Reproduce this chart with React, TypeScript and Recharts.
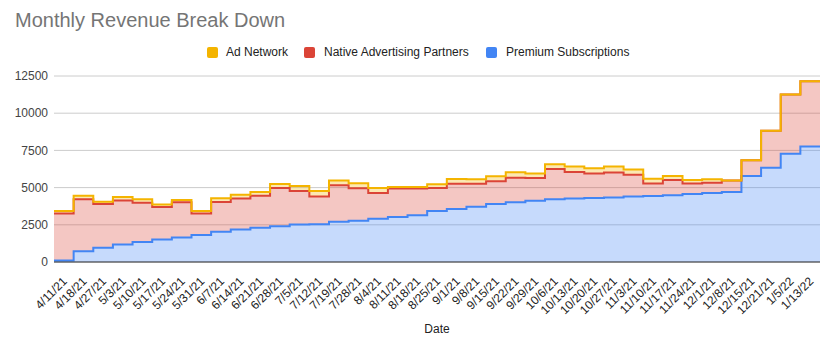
import React from "react";
import {
    AreaChart,
    Area,
    XAxis,
    YAxis,
    CartesianGrid,
    ReferenceLine,
} from "recharts";

const DATES = [
    "4/11/21", "4/18/21", "4/27/21", "5/3/21", "5/10/21", "5/17/21", "5/24/21",
    "5/31/21", "6/7/21", "6/14/21", "6/21/21", "6/28/21", "7/5/21", "7/12/21",
    "7/19/21", "7/28/21", "8/4/21", "8/11/21", "8/18/21", "8/25/21", "9/1/21",
    "9/8/21", "9/15/21", "9/22/21", "9/29/21", "10/6/21", "10/13/21", "10/20/21",
    "10/27/21", "11/3/21", "11/10/21", "11/17/21", "11/24/21", "12/1/21",
    "12/8/21", "12/15/21", "12/21/21", "1/5/22", "1/13/22",
];

const PREMIUM = [
    100, 720, 950, 1170, 1350, 1510, 1650, 1820, 2030, 2190, 2300, 2410, 2520,
    2540, 2700, 2770, 2900, 3030, 3150, 3420, 3560, 3710, 3890, 4010, 4120,
    4210, 4260, 4300, 4340, 4400, 4430, 4480, 4570, 4640, 4700, 5780, 6340,
    7270, 7760,
];

const NATIVE = [
    3160, 3490, 2940, 2970, 2630, 2180, 2360, 1440, 2000, 2070, 2150, 2560,
    2250, 1870, 2450, 2180, 1740, 1910, 1790, 1550, 1700, 1550, 1530, 1650,
    1520, 2040, 1790, 1640, 1670, 1470, 840, 1030, 700, 690, 770, 1060, 2480,
    3980, 4390,
];

const AD_NETWORK = [
    160, 240, 160, 220, 230, 180, 160, 160, 260, 260, 250, 270, 340, 360, 320,
    340, 330, 100, 100, 250, 320, 300, 340, 370, 300, 320, 360, 360, 400, 350,
    330, 270, 240, 230, 0, 0, 0, 0, 0,
];

const Y_TICKS = [0, 2500, 5000, 7500, 10000, 12500];

const SERIES = [
    { key: "premium", name: "Premium Subscriptions", color: "#4285f4" },
    { key: "native", name: "Native Advertising Partners", color: "#db4437" },
    { key: "ad", name: "Ad Network", color: "#f4b400" },
];

const FONT = "'Liberation Sans', Arial, sans-serif";

// each week is a full-width step, so the last value is repeated to close it
const rows = DATES.map((_, i) => ({
    x: i,
    premium: PREMIUM[i],
    native: NATIVE[i],
    ad: AD_NETWORK[i],
}));
const last = DATES.length - 1;
const data = [
    ...rows,
    { x: DATES.length, premium: PREMIUM[last], native: NATIVE[last], ad: AD_NETWORK[last] },
];

function DateTick({ x, y, payload }: any) {
    const label = DATES[Math.floor(payload.value)];
    const tx = x + 4;
    const ty = y + 20;
    return (
        <text
            x={tx}
            y={ty}
            transform={`rotate(-45 ${tx} ${ty})`}
            textAnchor="end"
            fontSize={12}
            fill="#222"
            fontFamily={FONT}
        >
            {label}
        </text>
    );
}

const LEGEND = [
    { name: "Ad Network", color: "#f4b400", box: 207, text: 226 },
    { name: "Native Advertising Partners", color: "#db4437", box: 304, text: 324 },
    { name: "Premium Subscriptions", color: "#4285f4", box: 486, text: 506 },
];

export default function App() {
    return (
        <div
            style={{
                position: "absolute",
                left: 0,
                top: 0,
                width: 835,
                height: 351,
                background: "#fff",
                fontFamily: FONT,
            }}
        >
            <div
                style={{
                    position: "absolute",
                    left: 15,
                    top: 9,
                    fontSize: 20,
                    color: "#757575",
                    whiteSpace: "nowrap",
                }}
            >
                Monthly Revenue Break Down
            </div>
            {LEGEND.map((l) => (
                <React.Fragment key={l.name}>
                    <div
                        style={{
                            position: "absolute",
                            left: l.box,
                            top: 47,
                            width: 11,
                            height: 11,
                            borderRadius: 2,
                            background: l.color,
                        }}
                    />
                    <div
                        style={{
                            position: "absolute",
                            left: l.text,
                            top: 45,
                            fontSize: 12,
                            color: "#222",
                            whiteSpace: "nowrap",
                        }}
                    >
                        {l.name}
                    </div>
                </React.Fragment>
            ))}
            <div
                style={{
                    position: "absolute",
                    left: 387,
                    width: 100,
                    textAlign: "center",
                    top: 322,
                    fontSize: 12,
                    color: "#222",
                }}
            >
                Date
            </div>
            <div style={{ position: "absolute", left: 0, top: 0 }}>
                <AreaChart
                    width={835}
                    height={351}
                    data={data}
                    margin={{ top: 76, right: 15, bottom: 0, left: 0 }}
                >
                    <CartesianGrid
                        horizontal
                        vertical={false}
                        stroke="#cccccc"
                        strokeWidth={1}
                    />
                    <XAxis
                        dataKey="x"
                        type="number"
                        domain={[0, DATES.length]}
                        ticks={DATES.map((_, i) => i + 0.5)}
                        interval={0}
                        tick={<DateTick />}
                        tickLine={false}
                        axisLine={false}
                        tickSize={0}
                        tickMargin={0}
                        height={89}
                        allowDataOverflow
                    />
                    <YAxis
                        type="number"
                        domain={[0, 12500]}
                        ticks={Y_TICKS}
                        interval={0}
                        tickLine={false}
                        axisLine={false}
                        tickSize={0}
                        tickMargin={6}
                        width={54}
                        tick={{ fontSize: 12, fill: "#444", fontFamily: FONT }}
                    />
                    {SERIES.map((s) => (
                        <Area
                            key={`fill-${s.key}`}
                            dataKey={s.key}
                            name={s.name}
                            stackId="fill"
                            type="stepAfter"
                            stroke="none"
                            fill={s.color}
                            fillOpacity={0.3}
                            isAnimationActive={false}
                            dot={false}
                            activeDot={false}
                        />
                    ))}
                    <ReferenceLine y={0} stroke="#333" strokeWidth={1} />
                    {SERIES.map((s) => (
                        <Area
                            key={`line-${s.key}`}
                            dataKey={s.key}
                            name={s.name}
                            stackId="line"
                            type="stepAfter"
                            stroke={s.color}
                            strokeWidth={2}
                            fill="none"
                            isAnimationActive={false}
                            dot={false}
                            activeDot={false}
                        />
                    ))}
                </AreaChart>
            </div>
        </div>
    );
}
